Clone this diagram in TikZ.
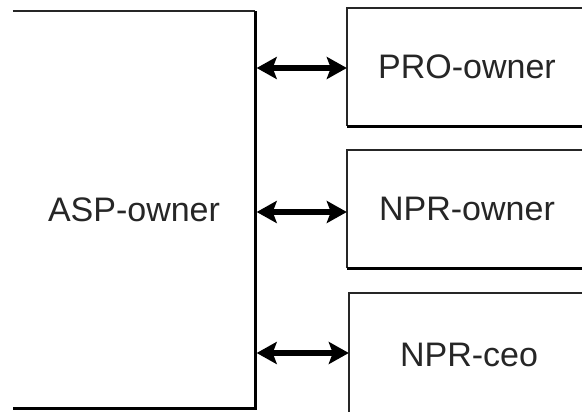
\documentclass[tikz,border=0pt]{standalone}
\usepackage{fontspec}
\setmainfont{Liberation Sans}
\usetikzlibrary{arrows.meta}
\tikzset{
  boxarea/.style={rectangle, draw=none, inner sep=0pt, text=black!85, font=\fontsize{34}{40}\selectfont},
  thinedge/.style={line width=1.6pt, draw=black!85},
  thickedge/.style={line width=3pt, draw=black},
  linktip/.tip={Stealth[length=20pt,width=22pt,inset=4pt]},
  conn/.style={line width=6.5pt, linktip-linktip}
}
\begin{document}
\begin{tikzpicture}[x=1pt,y=-1pt]
  \useasboundingbox (0,0) rectangle (582,412);
  \clip (0,0) rectangle (582,412);
  \fill[white] (0,0) rectangle (582,412);

  % box areas (text centred inside)
  \node[boxarea, minimum width=242pt, minimum height=397pt] (asp) at (134,210) {ASP-owner};
  \node[boxarea, minimum width=240pt, minimum height=118pt] (pro) at (467,67) {PRO-owner};
  \node[boxarea, minimum width=240pt, minimum height=118pt] (nprown) at (467,209) {NPR-owner};
  \node[boxarea, minimum width=240pt, minimum height=124pt] (nprceo) at (469,355) {NPR-ceo};

  % raised-panel borders: thin top/left, heavy bottom/right
  \draw[thinedge] (asp.north west) -- (asp.north east);
  \draw[thickedge] (asp.north east) -- (asp.south east) -- (asp.south west);
  \foreach \b in {pro,nprown,nprceo}{
    \draw[thinedge] (\b.north east) -- (\b.north west) -- (\b.south west);
    \draw[thickedge] (\b.south west) -- (\b.south east);
  }

  % link end points on the right-hand boxes
  \coordinate (e1) at ([yshift=-1pt]pro.west);
  \coordinate (e2) at ([yshift=-3pt]nprown.west);
  \coordinate (e3) at ([yshift=2pt]nprceo.west);

  % two-way links
  \draw[conn] ([xshift=1.5pt]asp.east |- e1) -- (e1);
  \draw[conn] ([xshift=1.5pt]asp.east |- e2) -- (e2);
  \draw[conn] ([xshift=1.5pt]asp.east |- e3) -- (e3);
\end{tikzpicture}
\end{document}
